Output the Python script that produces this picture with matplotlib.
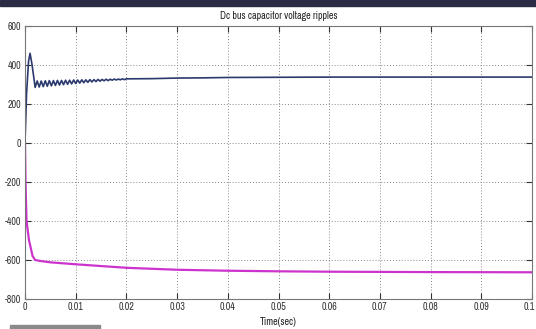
import matplotlib.pyplot as plt
from matplotlib.patches import Rectangle
from matplotlib.transforms import ScaledTranslation

# blue trace: dc bus upper capacitor
t_pos = [0, 0.0003, 0.0007, 0.001, 0.0014, 0.002,
         0.0024, 0.0028, 0.0032, 0.0036, 0.0040, 0.0044, 0.0048, 0.0052,
         0.0056, 0.0060, 0.0064, 0.0068, 0.0072, 0.0076, 0.0080, 0.0084,
         0.0088, 0.0092, 0.0096, 0.0100, 0.0104, 0.0108, 0.0112, 0.0116,
         0.0120, 0.0124, 0.0128, 0.0132, 0.0136, 0.0140, 0.0144, 0.0148,
         0.0152, 0.0156, 0.0160, 0.0164, 0.0168, 0.0172, 0.0176, 0.0180,
         0.0184, 0.0188, 0.0192, 0.0196, 0.0200,
         0.025, 0.03, 0.035, 0.04, 0.05, 0.06, 0.08, 0.1]
v_pos = [0, 250, 420, 460, 400, 285,
         318, 287, 318, 289, 319, 291, 320, 293,
         320, 295, 321, 297, 321, 299, 322, 301,
         322, 303, 323, 305, 323, 307, 324, 309,
         324, 311, 325, 313, 325, 315, 326, 317,
         326, 319, 327, 320, 327, 322, 328, 323,
         328, 324, 329, 325, 329,
         330, 333, 334, 336, 337, 338, 338, 338]

# magenta trace: lower capacitor
t_neg = [0, 0.0001, 0.0003, 0.0008, 0.0015, 0.002, 0.003, 0.005,
         0.01, 0.02, 0.03, 0.04, 0.05, 0.06, 0.08, 0.1]
v_neg = [0, -200, -400, -500, -580, -600, -605, -612,
         -622, -640, -650, -655, -658, -660, -662, -663]

x_ticks = [0, 0.01, 0.02, 0.03, 0.04, 0.05, 0.06, 0.07, 0.08, 0.09, 0.1]
x_labels = ['0', '0.01', '0.02', '0.03', '0.04', '0.05', '0.06', '0.07', '0.08', '0.09', '0.1']
y_ticks = [-800, -600, -400, -200, 0, 200, 400, 600]

plt.rcParams['font.family'] = ['Archivo Narrow', 'DejaVu Sans']
plt.rcParams['axes.unicode_minus'] = False

fig = plt.figure(figsize=(5.36, 3.29), dpi=100)
ax = fig.add_axes([25 / 536, 1 - 299 / 329, 507 / 536, 273 / 329])

ax.plot(t_pos, v_pos, color='#2b3a6e', lw=1.2)
ax.plot(t_neg, v_neg, color='#cc33cc', lw=1.6)

ax.set_xlim(0, 0.1)
ax.set_ylim(-800, 600)
ax.set_xticks(x_ticks)
ax.set_xticklabels(x_labels)
ax.set_yticks(y_ticks)
ax.tick_params(direction='in', length=4, labelsize=7.2, colors='#333333',
               top=True, right=True, pad=2.5)
ax.grid(True, color='#888888', linestyle=(0, (1, 2)), lw=0.7)
for s in ax.spines.values():
    s.set_color('#777777')

# last x label sits against the right edge of the window
last = ax.get_xticklabels()[-1]
last.set_ha('right')
last.set_transform(last.get_transform() + ScaledTranslation(0.035, 0, fig.dpi_scale_trans))

ax.set_title('Dc bus capacitor voltage ripples', fontsize=7.2, pad=5, color='#222222')
ax.set_xlabel('Time(sec)', fontsize=7.2, labelpad=3, color='#222222')

# window chrome around the screenshot
fig.patches.append(Rectangle((0, 1 - 6 / 329), 1, 6 / 329, transform=fig.transFigure,
                             color='#2b2b45', zorder=0))
fig.patches.append(Rectangle((10 / 536, 0), 90 / 536, 4 / 329, transform=fig.transFigure,
                             color='#8a8a8a', zorder=0))

fig.savefig('out.png', dpi=100)
